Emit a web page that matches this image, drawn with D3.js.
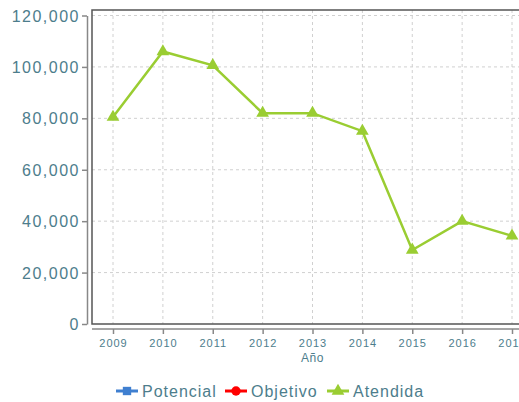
<!DOCTYPE html>
<html>
<head>
<meta charset="utf-8">
<script src="https://cdn.jsdelivr.net/npm/d3@7"></script>
<style>
  body { margin: 0; background: #fff; }
  text { font-family: "Liberation Sans", Arial, sans-serif; fill: #4d7d8c; }
</style>
</head>
<body>
<svg id="chart" width="519" height="402"></svg>
<script>
// Data
const years = [2009, 2010, 2011, 2012, 2013, 2014, 2015, 2016, 2017];
const atendida = [80500, 106000, 100600, 82000, 82000, 75000, 28800, 40000, 34300];
const yTicks = [0, 20000, 40000, 60000, 80000, 100000, 120000];
const legendItems = ["Potencial", "Objetivo", "Atendida"];
const legendColors = ["#3f7fd0", "#ff0000", "#9acd32"];

const svg = d3.select('#chart');
const box = { left: 92, top: 10, right: 525, bottom: 324 };

// Scales
const x = d3.scaleLinear().domain([2009, 2017]).range([113, 512]);
const y = d3.scaleLinear().domain([0, 120000]).range([324, 15.5]);

// Grid lines
const grid = svg.append('g');
grid.selectAll('.vg').data(years).join('line')
  .attr('x1', d => x(d)).attr('x2', d => x(d))
  .attr('y1', box.top).attr('y2', box.bottom)
  .attr('stroke', '#d0d0d0').attr('stroke-dasharray', '3,3');
grid.selectAll('.hg').data(yTicks.slice(1)).join('line')
  .attr('x1', box.left).attr('x2', box.right)
  .attr('y1', d => y(d)).attr('y2', d => y(d))
  .attr('stroke', '#d0d0d0').attr('stroke-dasharray', '3,3');

// Plot box (left, top, bottom)
svg.append('path')
  .attr('d', `M${box.right},${box.top}H${box.left}V${box.bottom}H${box.right}`)
  .attr('fill', 'none').attr('stroke', '#555').attr('stroke-width', 1.5);

// Y axis, drawn offset from the box
const yAxis = svg.append('g').attr('transform', 'translate(87,0)')
  .call(d3.axisLeft(y).tickValues(yTicks).tickFormat(d3.format(',')).tickSize(5).tickSizeOuter(0));
yAxis.select('.domain').attr('stroke', '#888').attr('stroke-width', 1.5);
yAxis.selectAll('.tick line').attr('stroke', '#888').attr('stroke-width', 1.5);
yAxis.selectAll('.tick text').attr('font-size', 16).attr('letter-spacing', 1.5)
  .attr('font-family', '"Liberation Sans", Arial, sans-serif').attr('fill', '#4d7d8c').attr('dy', '0.35em').attr('x', -7);

// X axis, drawn offset from the box
const xAxis = svg.append('g').attr('transform', 'translate(0,329)')
  .call(d3.axisBottom(x).tickValues(years).tickFormat(d3.format('d')).tickSize(5).tickSizeOuter(0));
xAxis.select('.domain').attr('d', `M${box.left},0H${box.right}`).attr('stroke', '#888').attr('stroke-width', 1.5);
xAxis.selectAll('.tick line').attr('stroke', '#888').attr('stroke-width', 1.5);
xAxis.selectAll('.tick text').attr('font-size', 11).attr('letter-spacing', 1)
  .attr('font-family', '"Liberation Sans", Arial, sans-serif').attr('fill', '#4d7d8c').attr('y', 10);

svg.append('text').attr('x', x(2013)).attr('y', 362).attr('text-anchor', 'middle')
  .attr('font-size', 12).attr('letter-spacing', 0.5).text('Año');

// Atendida line
const line = d3.line().x((d, i) => x(years[i])).y(d => y(d));
svg.append('path').datum(atendida).attr('d', line)
  .attr('fill', 'none').attr('stroke', '#9acd32').attr('stroke-width', 2.5);
const tri = d3.symbol().type(d3.symbolTriangle).size(70);
svg.selectAll('.pt').data(atendida).join('path')
  .attr('transform', (d, i) => `translate(${x(years[i])},${y(d)})`)
  .attr('d', tri).attr('fill', '#9acd32');

// Legend
const legendX = [116, 225, 327];
const legendG = svg.append('g').attr('transform', 'translate(0,391)');
const symbols = [d3.symbolSquare, d3.symbolCircle, d3.symbolTriangle];
legendItems.forEach((name, i) => {
  const g = legendG.append('g').attr('transform', `translate(${legendX[i]},0)`);
  g.append('line').attr('x1', 0).attr('x2', 22).attr('stroke', legendColors[i]).attr('stroke-width', 3);
  g.append('path').attr('transform', 'translate(11,0)')
    .attr('d', d3.symbol().type(symbols[i]).size(70)).attr('fill', legendColors[i]);
  g.append('text').attr('x', 26).attr('dy', '0.35em').attr('font-size', 16).attr('letter-spacing', 1).text(name);
});
</script>
</body>
</html>
